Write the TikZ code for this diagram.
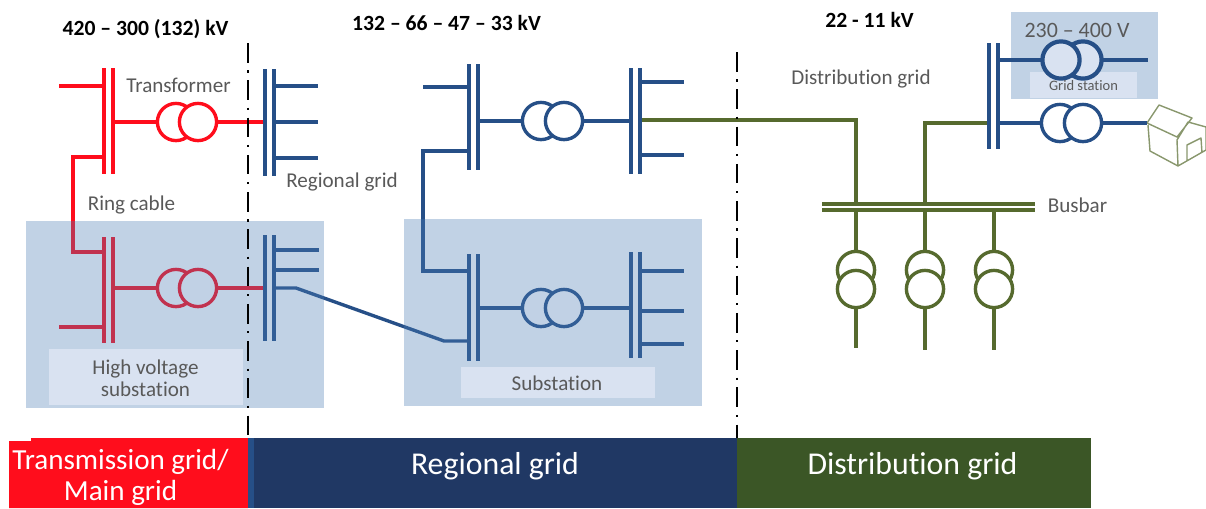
\documentclass[tikz,border=0pt]{standalone}
\usepackage{fontspec}
\setmainfont[Ligatures=NoCommon]{Carlito}
\definecolor{gridred}{HTML}{FF0D1C}
\definecolor{gridblue}{HTML}{264F87}
\definecolor{gridgreen}{HTML}{566A2E}
\definecolor{barblue}{HTML}{203864}
\definecolor{bargreen}{HTML}{3B5626}
\definecolor{boxblue}{HTML}{4A7BB3}
\definecolor{tagblue}{HTML}{D9E2F1}
\definecolor{labelgray}{HTML}{595959}
\tikzset{
  wire/.style={line width=2.4pt},
  busbar/.style={draw=none, inner sep=0, outer sep=0, minimum width=2.6pt, minimum height=#1*0.025cm},
  coil/.style={draw, fill=white, circle, line width=2.4pt, inner sep=0, outer sep=0, minimum size=0.93cm},
  station/.style={fill=boxblue, fill opacity=0.34},
  tag/.style={fill=tagblue, draw=none},
  limit/.style={line width=1.3pt, dash pattern=on 14pt off 5.5pt on 1.5pt off 5.5pt},
  label/.style={text=labelgray, font=\fontsize{15}{16}\selectfont, inner sep=0},
  volt/.style={text=black, font=\fontsize{15.4}{18}\selectfont\bfseries, inner sep=0},
  band/.style={text=white, font=\fontsize{22.6}{26}\selectfont, inner sep=0, align=center}
}
\begin{document}
\begin{tikzpicture}[x=0.025cm, y=-0.025cm]
\useasboundingbox (0,0) rectangle (1206,508);

% main grid, top
\node[busbar=106, fill=gridred] (mainAl) at (104,121) {};
\node[busbar=106, fill=gridred] (mainAr) at (113,121) {};
\node[coil, draw=gridred] (trAl) at (176,122) {};
\node[coil, draw=gridred] (trAr) at (198,122) {};
\draw[wire, gridred] (mainAr.east |- trAl) -- (trAl);
\coordinate (mainAin) at (59,86);
\draw[wire, gridred] (mainAin) -- (mainAl.west |- mainAin);

% main grid, bottom
\node[busbar=106, fill=gridred] (mainBl) at (104,290) {};
\node[busbar=106, fill=gridred] (mainBr) at (113,290) {};
\node[coil, draw=gridred] (trBl) at (176,288) {};
\node[coil, draw=gridred] (trBr) at (198,288) {};
\draw[wire, gridred] (mainBr.east |- trBl) -- (trBl);
\coordinate (mainBin) at (59,327);
\draw[wire, gridred] (mainBin) -- (mainBl.west |- mainBin);

% ring cable
\coordinate (ringA) at (73,157);
\coordinate (ringB) at (73,252);
\draw[wire, gridred] (mainAl.west |- ringA) -- (ringA) -- (ringB) -- (mainBl.west |- ringB);

% regional grid, left
\node[busbar=107, fill=gridblue] (regAl) at (265,122) {};
\node[busbar=107, fill=gridblue] (regAr) at (274,122) {};
\node[busbar=106, fill=gridblue] (regBl) at (265,288) {};
\node[busbar=106, fill=gridblue] (regBr) at (274,288) {};
\draw[wire, gridred] (trAr) -- (regAl);
\draw[wire, gridred] (trBr) -- (regBl);
\foreach \y in {86,122,158} {
  \coordinate (stub) at (318,\y);
  \draw[wire, gridblue] (regAr.east |- stub) -- (stub);
}
\foreach \y in {250,270} {
  \coordinate (stub) at (319,\y);
  \draw[wire, gridblue] (regBr.east |- stub) -- (stub);
}

% regional grid, top
\node[busbar=106, fill=gridblue] (subAl) at (469,117) {};
\node[busbar=106, fill=gridblue] (subAr) at (478,117) {};
\node[coil, draw=gridblue] (trCl) at (541,121) {};
\node[coil, draw=gridblue] (trCr) at (564,121) {};
\node[busbar=106, fill=gridblue] (subBl) at (631,121) {};
\node[busbar=106, fill=gridblue] (subBr) at (640,121) {};
\draw[wire, gridblue] (subAr.east |- trCl) -- (trCl);
\draw[wire, gridblue] (trCr) -- (subBl);
\coordinate (subAin) at (423,87);
\draw[wire, gridblue] (subAin) -- (subAl.west |- subAin);
\foreach \y in {82,155} {
  \coordinate (stub) at (684,\y);
  \draw[wire, gridblue] (subBr.east |- stub) -- (stub);
}

% regional grid, substation
\node[busbar=107, fill=gridblue] (subCl) at (469,307) {};
\node[busbar=107, fill=gridblue] (subCr) at (478,307) {};
\node[coil, draw=gridblue] (trDl) at (541,308) {};
\node[coil, draw=gridblue] (trDr) at (564,308) {};
\node[busbar=106, fill=gridblue] (subDl) at (631,305) {};
\node[busbar=106, fill=gridblue] (subDr) at (640,305) {};
\draw[wire, gridblue] (subCr.east |- trDl) -- (trDl);
\draw[wire, gridblue] (trDr) -- (subDl.west |- trDr);
\foreach \y in {271,311,344} {
  \coordinate (stub) at (684,\y);
  \draw[wire, gridblue] (subDr.east |- stub) -- (stub);
}
\coordinate (loopA) at (423,151);
\coordinate (loopB) at (423,271);
\draw[wire, gridblue] (subAl.west |- loopA) -- (loopA) -- (loopB) -- (subCl.west |- loopB);
\coordinate (feedA) at (296,288);
\coordinate (feedB) at (444,341);
\draw[wire, gridblue] (regBr) -- (feedA) -- (feedB) -- (subCl.west |- feedB);

% distribution grid
\node[busbar=106, fill=gridblue] (lowl) at (989,96) {};
\node[busbar=106, fill=gridblue] (lowr) at (998,96) {};
\node[busbar=1, minimum width=213*0.025cm, minimum height=2.4pt, fill=gridgreen] (railA) at (928.5,204) {};
\node[busbar=1, minimum width=213*0.025cm, minimum height=2.4pt, fill=gridgreen] (railB) at (928.5,210) {};
\foreach \x/\n/\b in {856/a/348, 925/b/350, 994/c/350} {
  \node[coil, draw=gridgreen] (tr\n t) at (\x,270) {};
  \node[coil, draw=gridgreen] (tr\n b) at (\x,289) {};
  \coordinate (end\n) at (\x,\b);
  \draw[wire, gridgreen] (railB.south -| tr\n t) -- (tr\n t);
  \draw[wire, gridgreen] (tr\n b) -- (end\n);
}
\coordinate (greenA) at (856,120);
\coordinate (greenB) at (925,123);
\draw[wire, gridgreen] (subBr.east |- greenA) -- (greenA) -- (railA.north -| greenA);
\draw[wire, gridgreen] (railA.north -| greenB) -- (greenB) -- (lowl.west |- greenB);

% house
\coordinate (houseA) at (1147,123);
\draw[gridgreen!70, line width=1pt, line join=round]
  (houseA) -- (1159,105) -- (1192,118) -- (1177,137) -- cycle
  (1148,125) -- (1150,151) -- (1178,166) -- (1206,150) -- (1206,127) -- (1188,122) -- (1177,140) -- (1178,166)
  (1187,160) -- (1187,145) -- (1201,138) -- (1202,153);

% boxes go over the lines, as in a translucent sheet
\fill[station] (26,221) rectangle (324,408);
\fill[station] (404,219) rectangle (702,406);
\fill[station] (1011,12) rectangle (1158,99);
\node[tag, minimum width=194*0.025cm, minimum height=56*0.025cm] (tagHV) at (146,377) {};
\node[tag, minimum width=194*0.025cm, minimum height=31*0.025cm] (tagSub) at (558,382.5) {};
\node[tag, minimum width=107*0.025cm, minimum height=26*0.025cm] (tagGrid) at (1083.5,85) {};

% low voltage transformers
\node[coil, fill=tagblue, draw=gridblue, line width=3pt] (trEr) at (1083,60) {};
\node[coil, fill=tagblue, draw=gridblue, line width=3pt] (trEl) at (1061,60) {};
\coordinate (lowA) at (1148,60);
\draw[wire, gridblue] (lowr.east |- trEl) -- (trEl);
\draw[wire, gridblue] (trEr) -- (lowA);
\node[coil, draw=gridblue] (trFl) at (1060,123) {};
\node[coil, draw=gridblue] (trFr) at (1083,123) {};
\draw[wire, gridblue] (lowr.east |- trFl) -- (trFl);
\draw[wire, gridblue] (trFr) -- (houseA);

% bands
\fill[gridred] (9,441) rectangle (31,508) (31,438) rectangle (248,508);
\fill[barblue] (248,438) rectangle (737,508);
\fill[gridblue] (248,438) rectangle (254,508);
\fill[bargreen] (737,438) rectangle (1091,508);

% limits
\coordinate (limitAt) at (248,43);
\coordinate (limitAb) at (248,436);
\coordinate (limitBt) at (737,52);
\coordinate (limitBb) at (737,438);
\draw[limit] (limitAt) -- (limitAb);
\draw[limit] (limitBt) -- (limitBb);

% texts
\node[volt] (voltA) at (145.5,29) {420 – 300 (132) kV};
\node[volt] (voltB) at (446.5,23) {132 – 66 – 47 – 33 kV};
\node[volt] (voltC) at (869.5,20) {22 - 11 kV};
\node[label] (lblTr) at (178.5,85) {Transformer};
\node[label] (lblReg) at (342,182) {Regional grid};
\node[label] (lblRing) at (131.5,205) {Ring cable};
\node[label, align=center, font=\fontsize{15}{15.7}\selectfont] at (145.5,378) (lblHV) {High voltage\\substation};
\node[label] at (557,383.5) (lblSub) {Substation};
\node[label] (lblDist) at (861,79) {Distribution grid};
\node[label] (lblBus) at (1077.5,205) {Busbar};
\node[label, font=\fontsize{15.6}{18}\selectfont] (lblLow) at (1077,30) {230 – 400 V};
\node[label, font=\fontsize{10.3}{12}\selectfont] at (1083.5,86) (lblGrid) {Grid station};
\node[band, font=\fontsize{20.7}{22.5}\selectfont] (bandA) at (120.5,477.5) {Transmission grid/\\Main grid};
\node[band] (bandB) at (495,466) {Regional grid};
\node[band] (bandC) at (912.5,466) {Distribution grid};
\end{tikzpicture}
\end{document}
